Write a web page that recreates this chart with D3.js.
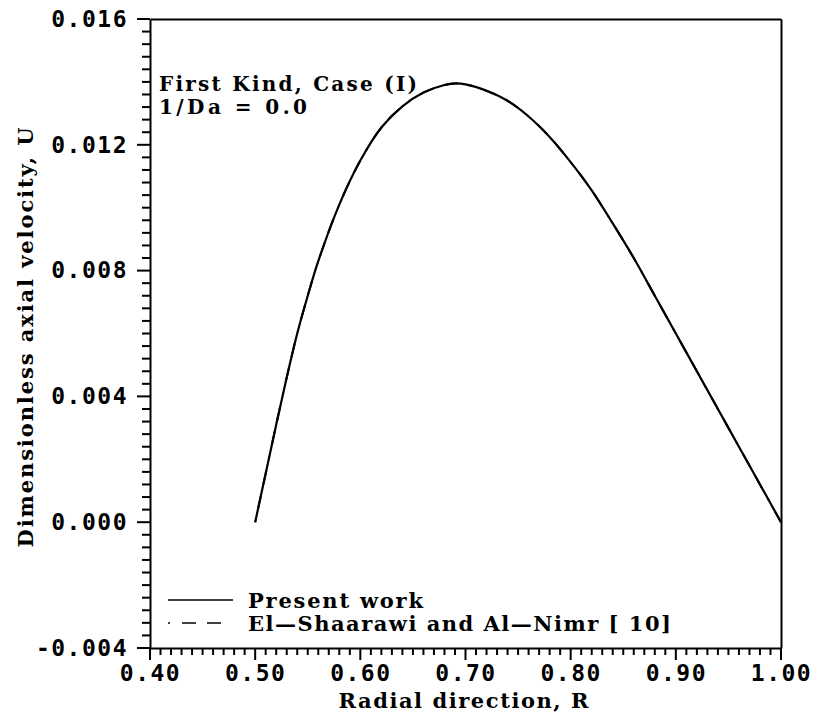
<!DOCTYPE html>
<html>
<head>
<meta charset="utf-8">
<script src="https://cdn.jsdelivr.net/npm/d3@7"></script>
<style>
  body { margin: 0; background: #fff; }
  svg { display: block; }
  .num { font-family: "DejaVu Sans Mono", monospace; font-weight: bold; font-size: 23px; letter-spacing: 1.5px; fill: #000; }
  .lbl { font-family: "DejaVu Serif", serif; font-weight: bold; font-size: 21px; fill: #000; }
</style>
</head>
<body>
<div id="container"></div>
<script>
// radial position R and axial velocity U
const rValues   = [0.50, 0.51, 0.52, 0.53, 0.54, 0.55, 0.56, 0.58, 0.60, 0.62, 0.64, 0.66, 0.68, 0.69, 0.70, 0.72, 0.74, 0.76, 0.78, 0.80, 0.82, 0.84, 0.86, 0.88, 0.90, 0.92, 0.94, 0.96, 0.98, 1.00];
const uPresent  = [0.0, 0.00155, 0.0031, 0.0046, 0.0060, 0.0072, 0.0083, 0.0101, 0.0115, 0.01255, 0.01322, 0.01366, 0.0139, 0.01395, 0.01392, 0.01372, 0.0134, 0.0129, 0.01225, 0.01145, 0.01055, 0.0095, 0.0084, 0.0072, 0.0060, 0.0048, 0.0036, 0.0024, 0.0012, 0.0];
// El-Shaarawi and Al-Nimr: lies on top of the present solution
const uShaarawi = [0.0, 0.00155, 0.0031, 0.0046, 0.0060, 0.0072, 0.0083, 0.0101, 0.0115, 0.01255, 0.01322, 0.01366, 0.0139, 0.01395, 0.01392, 0.01372, 0.0134, 0.0129, 0.01225, 0.01145, 0.01055, 0.0095, 0.0084, 0.0072, 0.0060, 0.0048, 0.0036, 0.0024, 0.0012, 0.0];

const xMajor = [0.40, 0.50, 0.60, 0.70, 0.80, 0.90, 1.00];
const xTickLabels = ["0.40", "0.50", "0.60", "0.70", "0.80", "0.90", "1.00"];
const yMajor = [-0.004, 0.000, 0.004, 0.008, 0.012, 0.016];
const yTickLabels = ["-0.004", "0.000", "0.004", "0.008", "0.012", "0.016"];

const legendNames = ["Present work", "El\u2014Shaarawi and Al\u2014Nimr [ 10]"];
const noteLines = ["First Kind, Case (I)", "1/Da = 0.0"];
const xTitle = "Radial direction, R";
const yTitle = "Dimensionless axial velocity, U";

const W = 814, H = 715;
const mLeft = 150, mRight = 781, mTop = 19, mBottom = 648;

const svg = d3.select("#container").append("svg")
    .attr("width", W)
    .attr("height", H);

const x = d3.scaleLinear().domain([0.4, 1.0]).range([mLeft, mRight]);
const y = d3.scaleLinear().domain([-0.004, 0.016]).range([mBottom, mTop]);

// tick positions: majors every 0.1 / 0.004, minors every 0.01 / 0.0004
var isMajorX = v => xMajor.some(m => Math.abs(m - v) < 1e-9);
var isMajorY = v => yMajor.some(m => Math.abs(m - v) < 1e-9);
var xTicksAll = d3.range(40, 101).map(d => d / 100);
var yTicksAll = d3.range(-10, 41).map(d => d * 0.0004);

// axes: domain lines and labels
function styleAxis(g) {
    g.select(".domain").attr("stroke", "#000").attr("stroke-width", 2);
    g.selectAll(".tick line").remove();
}

var xAx = svg.append("g")
    .attr("transform", `translate(0,${mBottom})`)
    .call(d3.axisBottom(x).tickValues(xMajor).tickSize(0).tickPadding(17)
        .tickFormat((d, i) => xTickLabels[i]))
    .call(styleAxis);
xAx.selectAll("text").attr("class", "num");

var yAx = svg.append("g")
    .attr("transform", `translate(${mLeft},0)`)
    .call(d3.axisLeft(y).tickValues(yMajor).tickSize(0).tickPadding(22)
        .tickFormat((d, i) => yTickLabels[i]))
    .call(styleAxis);
yAx.selectAll("text").attr("class", "num");

// frame: top and right
svg.append("g")
    .attr("transform", `translate(0,${mTop})`)
    .call(d3.axisTop(x).tickValues([]).tickSizeOuter(0))
    .call(styleAxis);
svg.append("g")
    .attr("transform", `translate(${mRight},0)`)
    .call(d3.axisRight(y).tickValues([]).tickSizeOuter(0))
    .call(styleAxis);

// tick marks, hanging outside the frame
svg.append("g")
    .selectAll("line")
    .data(xTicksAll)
    .join("line")
    .attr("x1", d => x(d)).attr("x2", d => x(d))
    .attr("y1", mBottom)
    .attr("y2", d => mBottom + (isMajorX(d) ? 12 : 7))
    .attr("stroke", "#000")
    .attr("stroke-width", 2);

svg.append("g")
    .selectAll("line")
    .data(yTicksAll)
    .join("line")
    .attr("y1", d => y(d)).attr("y2", d => y(d))
    .attr("x1", mLeft)
    .attr("x2", d => mLeft - (isMajorY(d) ? 13 : 8))
    .attr("stroke", "#000")
    .attr("stroke-width", 2);

var line = d3.line()
    .curve(d3.curveCatmullRom)
    .x(d => x(d[0]))
    .y(d => y(d[1]));

svg.append("path")
    .datum(rValues.map((r, i) => [r, uPresent[i]]))
    .attr("fill", "none")
    .attr("stroke", "#000")
    .attr("stroke-width", 2.2)
    .attr("d", line);

svg.append("path")
    .datum(rValues.map((r, i) => [r, uShaarawi[i]]))
    .attr("fill", "none")
    .attr("stroke", "#000")
    .attr("stroke-width", 2)
    .attr("stroke-dasharray", "2,12,14,11,14,12")
    .attr("d", line);

// annotation
noteLines.forEach(function(t, i) {
    svg.append("text")
        .attr("class", "lbl")
        .style("font-size", "20px")
        .attr("x", mLeft + 9)
        .attr("y", mTop + 72 + i * 23)
        .attr("textLength", i == 0 ? 258 : 148)
        .attr("lengthAdjust", "spacing")
        .text(t);
});

// legend
var dashes = [null, "2,12,14,11,14,12"];
legendNames.forEach(function(t, i) {
    var ly = mBottom - 48 + i * 23;
    svg.append("line")
        .attr("x1", mLeft + 18).attr("x2", mLeft + 83)
        .attr("y1", ly).attr("y2", ly)
        .attr("stroke", "#000")
        .attr("stroke-width", 1.6)
        .attr("stroke-dasharray", dashes[i]);
    svg.append("text")
        .attr("class", "lbl")
        .attr("x", mLeft + 98)
        .attr("y", ly + 8)
        .attr("textLength", i == 0 ? 175 : 423)
        .attr("lengthAdjust", "spacing")
        .text(t);
});

// axis titles
svg.append("text")
    .attr("class", "lbl")
    .attr("x", (mLeft + mRight) / 2 - 2)
    .attr("y", 708)
    .attr("text-anchor", "middle")
    .attr("textLength", 250)
    .attr("lengthAdjust", "spacing")
    .text(xTitle);

svg.append("text")
    .attr("class", "lbl")
    .attr("transform", `translate(33,${(mTop + mBottom) / 2 + 4}) rotate(-90)`)
    .attr("text-anchor", "middle")
    .attr("textLength", 420)
    .attr("lengthAdjust", "spacing")
    .text(yTitle);
</script>
</body>
</html>
